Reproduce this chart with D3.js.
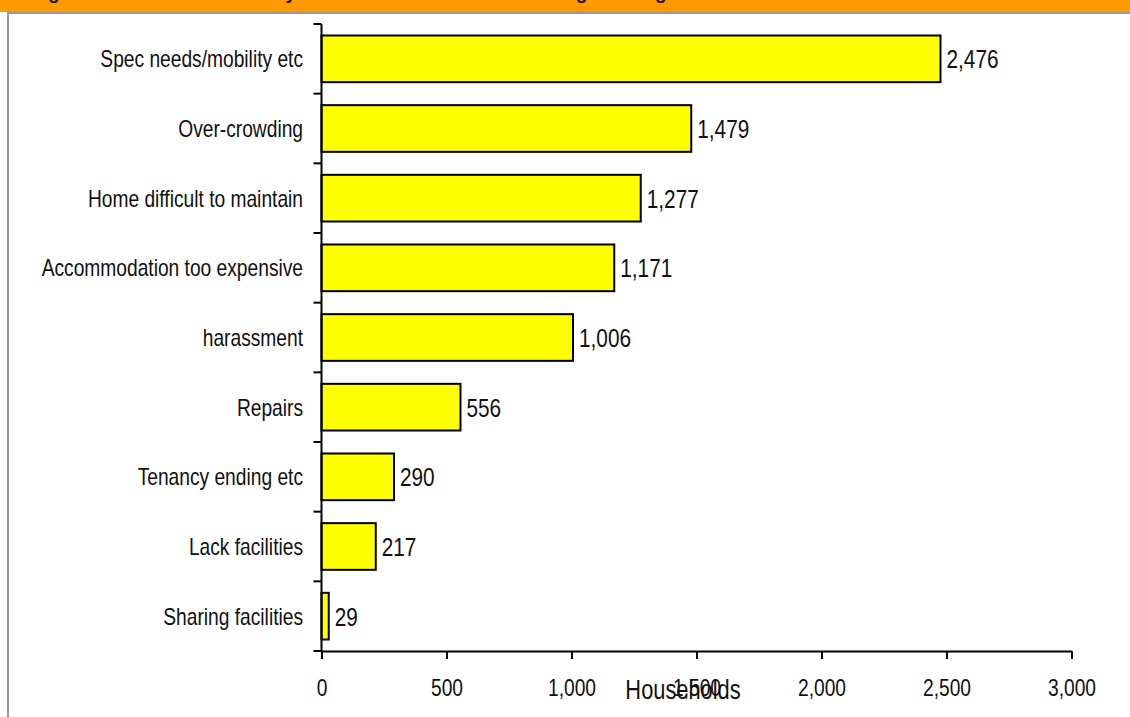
<!DOCTYPE html>
<html>
<head>
<meta charset="utf-8">
<script src="https://cdn.jsdelivr.net/npm/d3@7"></script>
<style>
  body { margin: 0; background: #fff; }
  svg text { font-family: "Liberation Sans", Arial, sans-serif; fill: #111; }
</style>
</head>
<body>
<svg id="chart" width="1130" height="717"></svg>
<script>
// Chart data
var categories = ["Spec needs/mobility etc", "Over-crowding", "Home difficult to maintain",
  "Accommodation too expensive", "harassment", "Repairs", "Tenancy ending etc",
  "Lack facilities", "Sharing facilities"];
var households = [2476, 1479, 1277, 1171, 1006, 556, 290, 217, 29];
var xTicks = [0, 500, 1000, 1500, 2000, 2500, 3000];
var titleText = "Figure 3.7: Main reasons why households move from existing housing";
var axisTitle = "Households";

var svg = d3.select("#chart");
var fmt = d3.format(",");
var narrow = 0.8; // fake an Arial Narrow look

// header band (title mostly scrolled out of view) and frame
svg.append("rect").attr("x", 0).attr("y", 0).attr("width", 1130).attr("height", 12).attr("fill", "#ff9900");
svg.append("text").attr("x", 31).attr("y", -1).attr("font-size", 19).attr("font-weight", "bold")
  .attr("fill", "#000").text(titleText);
svg.append("line").attr("x1", 8).attr("x2", 1130).attr("y1", 13).attr("y2", 13).attr("stroke", "#999").attr("stroke-width", 2);
svg.append("line").attr("x1", 8).attr("x2", 8).attr("y1", 12).attr("y2", 717).attr("stroke", "#999").attr("stroke-width", 2);

var x = d3.scaleLinear().domain([0, 3000]).range([321.5, 1071.5]);
var y = d3.scaleBand().domain(categories).range([24, 651]).paddingInner(0.33).paddingOuter(0.165);

// bars
svg.selectAll(".bar").data(households).enter().append("rect")
  .attr("class", "bar")
  .attr("x", x(0))
  .attr("y", function(d, i) { return y(categories[i]); })
  .attr("width", function(d) { return x(d) - x(0); })
  .attr("height", y.bandwidth())
  .attr("fill", "#ffff00")
  .attr("stroke", "#000")
  .attr("stroke-width", 2);

// value labels
svg.selectAll(".val").data(households).enter().append("text")
  .attr("class", "val")
  .attr("transform", function(d, i) {
    return "translate(" + (x(d) + 6) + "," + (y(categories[i]) + y.bandwidth() / 2) + ") scale(" + narrow + ",1)";
  })
  .attr("dy", "0.36em")
  .attr("font-size", 26)
  .text(function(d) { return fmt(d); });

// y axis: ticks sit between categories
var yAxisG = svg.append("g");
yAxisG.append("line").attr("x1", x(0)).attr("x2", x(0)).attr("y1", 24).attr("y2", 651)
  .attr("stroke", "#000").attr("stroke-width", 2);
d3.range(categories.length + 1).forEach(function(i) {
  var ty = 24 + i * (627 / categories.length);
  yAxisG.append("line").attr("x1", x(0) - 8).attr("x2", x(0)).attr("y1", ty).attr("y2", ty)
    .attr("stroke", "#000").attr("stroke-width", 2);
});
yAxisG.selectAll(".cat").data(categories).enter().append("text")
  .attr("class", "cat")
  .attr("transform", function(d) {
    return "translate(303," + (y(d) + y.bandwidth() / 2) + ") scale(" + narrow + ",1)";
  })
  .attr("dy", "0.36em")
  .attr("text-anchor", "end")
  .attr("font-size", 24)
  .text(function(d) { return d; });

// x axis
var xAxis = d3.axisBottom(x).tickValues(xTicks).tickFormat(fmt).tickSizeInner(8).tickSizeOuter(0).tickPadding(0);
var xg = svg.append("g").attr("transform", "translate(0,651)").call(xAxis);
xg.select(".domain").attr("stroke", "#000").attr("stroke-width", 2);
xg.selectAll(".tick line").attr("stroke", "#000").attr("stroke-width", 2);
xg.selectAll(".tick text")
  .attr("y", null).attr("dy", null)
  .attr("transform", "translate(0,45) scale(" + narrow + ",1)")
  .attr("font-size", 24).style("font-family", null).attr("fill", "#111");

svg.append("text").attr("transform", "translate(683,699) scale(0.78,1)").attr("text-anchor", "middle")
  .attr("font-size", 28).text(axisTitle);
</script>
</body>
</html>
